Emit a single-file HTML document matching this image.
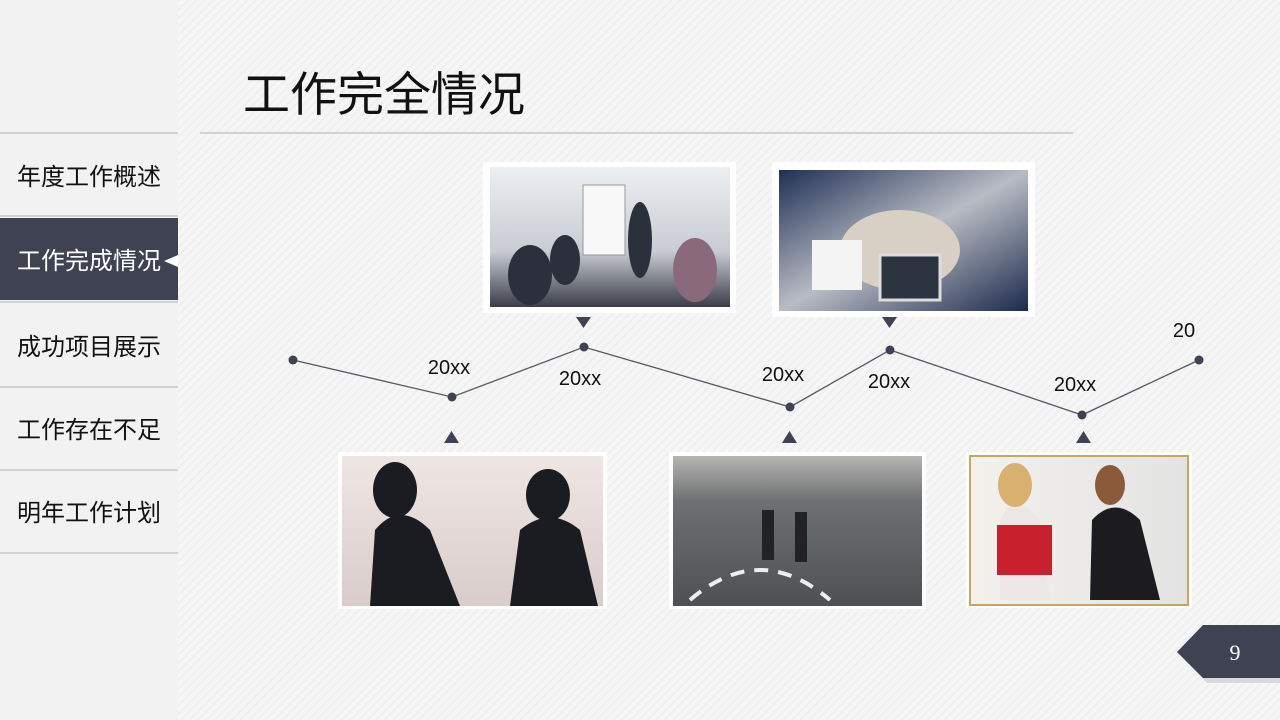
<!DOCTYPE html>
<html><head><meta charset="utf-8"><style>
html,body{margin:0;padding:0;width:1280px;height:720px;overflow:hidden;background:#f4f4f4;}
svg{display:block;font-family:"Liberation Sans","Noto Sans CJK SC",sans-serif;}
</style></head><body>
<svg width="1280" height="720" viewBox="0 0 1280 720">
<defs>
<pattern id="st" width="6" height="6" patternUnits="userSpaceOnUse" patternTransform="rotate(45)">
<rect width="6" height="6" fill="#f6f6f6"/><rect width="2" height="6" fill="#efefef"/></pattern>
<linearGradient id="g1" x1="0" y1="0" x2="0" y2="1"><stop offset="0" stop-color="#eceff2"/><stop offset="0.6" stop-color="#c9ccd2"/><stop offset="1" stop-color="#3a3d48"/></linearGradient>
<linearGradient id="g2" x1="0" y1="0" x2="1" y2="1"><stop offset="0" stop-color="#1f2f55"/><stop offset="0.5" stop-color="#b8bcc4"/><stop offset="1" stop-color="#1c2a4c"/></linearGradient>
<linearGradient id="g3" x1="0" y1="0" x2="0" y2="1"><stop offset="0" stop-color="#efe6e4"/><stop offset="1" stop-color="#d9ccca"/></linearGradient>
<linearGradient id="g4" x1="0" y1="0" x2="0" y2="1"><stop offset="0" stop-color="#b5b5b2"/><stop offset="0.3" stop-color="#6f7072"/><stop offset="1" stop-color="#4e5052"/></linearGradient>
<linearGradient id="g5" x1="0" y1="0" x2="1" y2="0"><stop offset="0" stop-color="#f4f1ec"/><stop offset="1" stop-color="#e3e3e3"/></linearGradient>
</defs>
<rect width="1280" height="720" fill="url(#st)"/>
<rect width="178" height="720" fill="#f2f2f2"/>
<g stroke="#c8c8cc" stroke-width="1.5">
<line x1="0" y1="133" x2="178" y2="133"/><line x1="0" y1="216" x2="178" y2="216"/>
<line x1="0" y1="302" x2="178" y2="302"/><line x1="0" y1="387" x2="178" y2="387"/>
<line x1="0" y1="470" x2="178" y2="470"/><line x1="0" y1="553" x2="178" y2="553"/>
</g>
<rect x="0" y="218" width="178" height="82" fill="#3f4253"/>
<polygon points="164,261 178,255 178,267" fill="#ffffff"/>
<g font-size="24" fill="#111">
<text x="17" y="185">年度工作概述</text>
<text x="17" y="269" fill="#ffffff">工作完成情况</text>
<text x="17" y="355">成功项目展示</text>
<text x="17" y="438">工作存在不足</text>
<text x="17" y="521">明年工作计划</text>
</g>
<text x="243" y="111" font-size="47" fill="#111">工作完全情况</text>
<line x1="200" y1="133" x2="1073" y2="133" stroke="#bdbdbd" stroke-width="1.2"/>
<rect x="483" y="162" width="253" height="151" fill="#fff"/>
<rect x="490" y="167" width="240" height="140" fill="url(#g1)"/>
<rect x="583" y="185" width="42" height="70" fill="#f8f8f8" stroke="#999"/>
<g fill="#2c303c"><ellipse cx="530" cy="275" rx="22" ry="30"/><ellipse cx="565" cy="260" rx="15" ry="25"/><ellipse cx="640" cy="240" rx="12" ry="38"/><ellipse cx="695" cy="270" rx="22" ry="32" fill="#8a6a7a"/></g>
<rect x="772" y="162" width="263" height="155" fill="#fff"/>
<rect x="779" y="170" width="249" height="141" fill="url(#g2)"/>
<ellipse cx="900" cy="250" rx="60" ry="40" fill="#d8d0c4"/>
<rect x="812" y="240" width="50" height="50" fill="#f4f4f4"/><rect x="880" y="255" width="60" height="45" fill="#2b3440" stroke="#ddd" stroke-width="3"/>
<rect x="338" y="452" width="269" height="157" fill="#fff"/>
<rect x="342" y="456" width="261" height="150" fill="url(#g3)"/>
<g fill="#1b1c22"><path d="M370 606 L375 530 Q400 500 430 530 L460 606Z"/><path d="M510 606 L520 530 Q550 505 580 530 L598 606Z"/>
<ellipse cx="395" cy="490" rx="22" ry="28"/><ellipse cx="548" cy="495" rx="22" ry="26"/></g>
<rect x="669" y="452" width="257" height="157" fill="#fff"/>
<rect x="673" y="456" width="249" height="150" fill="url(#g4)"/>
<path d="M690 600 Q760 540 830 600" stroke="#eee" stroke-width="4" fill="none" stroke-dasharray="14 10"/>
<g fill="#222"><rect x="762" y="510" width="12" height="50"/><rect x="795" y="512" width="12" height="50"/></g>
<rect x="966" y="452" width="226" height="156" fill="#fff"/>
<rect x="970" y="456" width="218" height="149" fill="url(#g5)" stroke="#c9a660" stroke-width="2"/>
<path d="M1000 600 L1000 520 Q1015 490 1040 520 L1050 600Z" fill="#ece6e6"/>
<rect x="997" y="525" width="55" height="50" fill="#c8202c"/>
<path d="M1090 600 L1092 520 Q1115 495 1140 520 L1160 600Z" fill="#1c1c20"/>
<ellipse cx="1015" cy="485" rx="17" ry="22" fill="#d8b070"/><ellipse cx="1110" cy="485" rx="15" ry="20" fill="#8a5a3a"/>
<polyline points="293,360 452,397 584,347 790,407 890,350 1082,415 1199,360" fill="none" stroke="#555866" stroke-width="1.3"/>
<g fill="#3f4253">
<circle cx="293" cy="360" r="4.5"/><circle cx="452" cy="397" r="4.5"/><circle cx="584" cy="347" r="4.5"/><circle cx="790" cy="407" r="4.5"/><circle cx="890" cy="350" r="4.5"/><circle cx="1082" cy="415" r="4.5"/><circle cx="1199" cy="360" r="4.5"/>
<polygon points="576,317 591,317 583.5,328"/><polygon points="882,317 897,317 889.5,328"/>
<polygon points="444,443 459,443 451.5,431"/><polygon points="782,443 797,443 789.5,431"/><polygon points="1076,443 1091,443 1083.5,431"/>
</g>
<g font-size="20" fill="#111" text-anchor="middle">
<text x="449" y="374">20xx</text><text x="580" y="385">20xx</text><text x="783" y="381">20xx</text>
<text x="889" y="388">20xx</text><text x="1075" y="391">20xx</text><text x="1184" y="337">20</text>
</g>
<polygon points="1179,654 1205,627 1282,627 1282,681 1205,681" fill="#c8c8c8" opacity="0.6" transform="translate(2,2)"/>
<polygon points="1177,652 1203,625 1280,625 1280,678 1203,678" fill="#3f4253"/>
<text x="1235" y="660" font-size="22" fill="#fff" text-anchor="middle" font-family="Liberation Serif,serif">9</text>
</svg>
</body></html>
